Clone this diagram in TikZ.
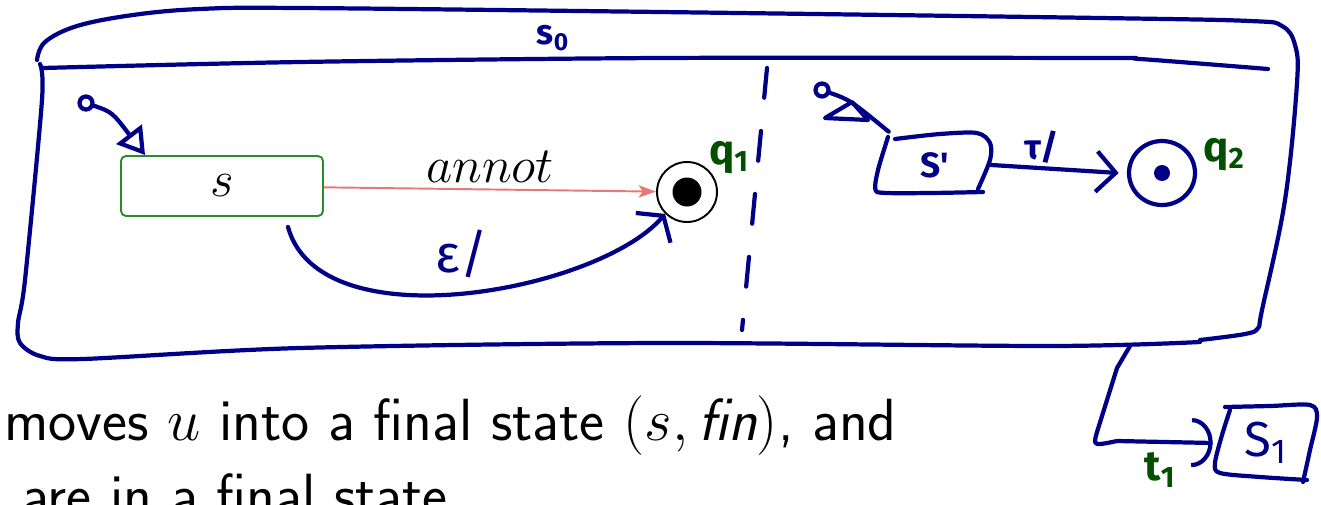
\RequirePackage{fix-cm}
\documentclass[tikz,border=0pt]{standalone}
\usepackage{fontspec}
\usetikzlibrary{arrows.meta,positioning,calc}
\newfontfamily\hand{Fira Sans}
\definecolor{penblue}{RGB}{0,0,135}
\definecolor{pengreen}{RGB}{0,80,0}
\definecolor{boxgreen}{RGB}{40,140,40}
\definecolor{annotred}{RGB}{232,120,120}
\tikzstyle{pen} = [draw=penblue, line width=2.4pt, line cap=round, line join=round]
\tikzstyle{state} = [rectangle, rounded corners=0.1cm, draw=boxgreen, line width=1.1pt, minimum width=4.04cm, minimum height=1.2cm, font=\fontsize{29}{35}\selectfont]
\tikzstyle{final} = [circle, draw=black, line width=1.1pt, minimum size=1.2cm, inner sep=0pt]
\tikzstyle{initdot} = [circle, draw=penblue, line width=2.4pt, minimum size=0.26cm, inner sep=0pt]
\tikzstyle{handbox} = [rectangle, inner sep=0pt, text=penblue, font=\hand\bfseries\fontsize{20}{24}\selectfont]
\tikzstyle{handfinal} = [circle, inner sep=0pt, minimum size=1.32cm]
\tikzstyle{penlabel} = [text=penblue, font=\hand\bfseries\fontsize{20}{24}\selectfont]
\tikzstyle{greenlabel} = [text=pengreen, font=\hand\bfseries\fontsize{24}{28}\selectfont]
\tikzstyle{slidetext} = [anchor=base west, inner sep=0pt, font=\sffamily\fontsize{33.9}{40}\selectfont]

\begin{document}
\begin{tikzpicture}[x=0.02cm, y=-0.02cm]
\useasboundingbox (0,0) rectangle (1321,504);
\clip (0,0) rectangle (1321,504);

% hand drawn superstate s0
\draw[pen] plot[smooth, tension=0.6] coordinates {(37,60) (45,42) (77,26) (133,15) (200,9) (300,8) (660,12) (1100,18) (1250,21) (1282,26) (1295,45) (1297,83) (1285,200) (1262,310) (1258,328) (1245,334) (1200,340)};
\draw[pen] plot[smooth] coordinates {(1200,342) (1050,346) (660,343) (300,348) (83,359) (40,356) (20,343) (18,323) (25,280) (42,100) (40,64)};
\draw[pen] plot[smooth] coordinates {(43,68) (300,62) (660,58) (1100,58) (1140,59) (1268,69)};
\node[penlabel] (s0lbl) at (553,38) {s\textsubscript{0}};
\coordinate (divtop) at (767,68);
\coordinate (divbot) at (742,330);
\draw[pen, dash pattern=on 17pt off 19pt] (divtop) -- (divbot);

% left region
\node (s) [state] at (222,186) {$s$};
\node (q1) [final] at (687,192) {};
\fill (q1.center) circle[radius=0.29cm];
\node (q1lbl) [greenlabel] at (729,158) {q\textsubscript{1}};
\draw [annotred, line width=1.1pt, -{Stealth[length=10pt, width=7pt, inset=2.5pt]}] (s) -- (q1) node[midway, above=0pt, font=\fontsize{29}{35}\selectfont, text=black] {$annot$};
\node (init1) [initdot] at (86,103) {};
\draw [pen, -{Triangle[open, length=15pt, width=18pt]}] (init1) .. controls (112,112) .. ([xshift=0.5cm]s.north west);
\draw [pen, -{Straight Barb[length=9pt, width=26pt]}] ([xshift=1.32cm, yshift=-0.2cm]s.south) .. controls +(32,117) and +(-66,77) .. (q1.south west);
\node (eps) [penlabel, font=\hand\fontsize{30}{36}\selectfont] at (462,254) {ε/};

% right region
\node (sp) [handbox, minimum width=2.24cm, minimum height=1.16cm, text depth=0pt] at (935,165) {S'\hspace{0.3cm}};
\draw[pen] plot[smooth, tension=0.5] coordinates {(895,139) (940,134) (977,133) (990,143) (990,160) (978,189)};
\draw[pen] plot[smooth, tension=0.3] coordinates {(983,192) (930,193) (877,192) (878,170) (888,137)};
\node (init2) [initdot] at (822,90) {};
\draw[pen] (init2) .. controls (850,100) .. ([xshift=0.2cm, yshift=0.08cm]sp.north west);
\draw[pen] (825,118) -- (852,102) -- (868,120) -- cycle;
\node (q2) [handfinal] at (1162,173) {};
\draw[pen] (q2.center) ellipse[x radius=0.66cm, y radius=0.64cm];
\fill[penblue] (q2.center) circle[radius=0.16cm];
\node (q2lbl) [greenlabel] at (1224,155) {q\textsubscript{2}};
\draw [pen, -{Straight Barb[length=11pt, width=23pt]}] (sp.east) -- ([xshift=-0.2cm]q2.west);
\node (tau) [penlabel] at (1042,147) {τ/};

% leaving s0
\node (s1) [handbox, minimum width=1.8cm, minimum height=1.44cm, font=\hand\fontsize{28}{32}\selectfont] at (1266,443) {S\textsubscript{1}};
\draw[pen] plot[smooth, tension=0.5] coordinates {(1225,407) (1270,406) (1310,405) (1317,417) (1310,450) (1303,482)};
\draw[pen] plot[smooth, tension=0.5] coordinates {(1307,480) (1260,477) (1220,473) (1215,463) (1222,435) (1230,410)};
\coordinate (s0foot) at (1130,346);
\draw [pen, -{Arc Barb[length=12pt, width=28pt]}] (s0foot) -- ++(-13,22) -- ++(-20,64) .. controls +(-4,14) .. ++(20,9) -- ([xshift=-0.16cm]s1.west);
\node (t1lbl) [greenlabel] at (1160,470) {t\textsubscript{1}};

% slide text
\node (line1) [slidetext] at (-48,440) {$u$ moves $u$ into a final state $(s,\textit{fin})$, and};
\node (line2) [slidetext] at (22,515) {are in a final state};
\end{tikzpicture}
\end{document}
